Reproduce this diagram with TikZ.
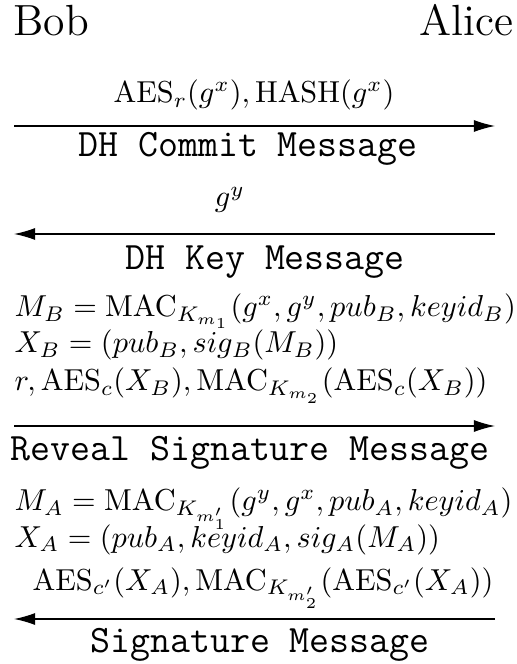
\documentclass[tikz,border=0pt]{standalone}
\usepackage{amsmath,amssymb}
\usetikzlibrary{arrows.meta}

% keep a fixed baseline distance even with deep subscripts
\newcommand\tightlines{\lineskiplimit=-100pt\relax}

\begin{document}
\begin{tikzpicture}[
      x=0.33pt, y=-0.33pt,
      inner sep=0pt,
      party/.style={font=\Large},
      msgname/.style={font=\fontsize{12.8}{15}\selectfont\ttfamily, anchor=base},
      payload/.style={anchor=base},
      calc/.style={anchor=base west, align=left, font=\tightlines},
      flow/.style={line width=0.4pt, -{Latex[length=7pt,width=4pt]}}
    ]
    \useasboundingbox (0,0) rectangle (517,664);
    \node (bob) [party, anchor=base west] at (13,36) {Bob};
    \node (alice) [party, anchor=base east] at (514,36) {Alice};
    % ends of the four message arrows
    \coordinate (b1) at (14,126);  \coordinate (a1) at (495,126);
    \coordinate (b2) at (14,234);  \coordinate (a2) at (495,234);
    \coordinate (b3) at (14,426);  \coordinate (a3) at (495,426);
    \coordinate (b4) at (14,619);  \coordinate (a4) at (495,619);
    % DH commit
    \node (commitdata) [payload] at (254,103) {$\mathrm{AES}_r(g^x), \mathrm{HASH}(g^x)$};
    \draw[flow] (b1) -- (a1);
    \node (commit) [msgname] at (248,157) {DH Commit Message};
    % DH key
    \node (keydata) [payload] at (230,207) {$g^y$};
    \draw[flow] (a2) -- (b2);
    \node (key) [msgname] at (265,270) {DH Key Message};
    % reveal signature (base of a two-line node is its last line)
    \node (bobcalc) [calc] at (14,353) {$M_B = \mathrm{MAC}_{K_{m_1}}(g^x, g^y, pub_B, keyid_B)$\\
      $X_B = (pub_B, sig_B(M_B))$};
    \node (revealdata) [calc] at (14,391) {$r, \mathrm{AES}_c(X_B), \mathrm{MAC}_{K_{m_2}}(\mathrm{AES}_c(X_B))$};
    \draw[flow] (b3) -- (a3);
    \node (reveal) [msgname] at (250,460) {Reveal Signature Message};
    % signature
    \node (alicecalc) [calc] at (14,547) {$M_A = \mathrm{MAC}_{K_{m'_1}}(g^y, g^x, pub_A, keyid_A)$\\
      $X_A = (pub_A, keyid_A, sig_A(M_A))$};
    \node (sigdata) [payload] at (263,590) {$\mathrm{AES}_{c'}(X_A), \mathrm{MAC}_{K_{m'_2}}(\mathrm{AES}_{c'}(X_A))$};
    \draw[flow] (a4) -- (b4);
    \node (sig) [msgname] at (260,652) {Signature Message};
  \end{tikzpicture}
\end{document}
